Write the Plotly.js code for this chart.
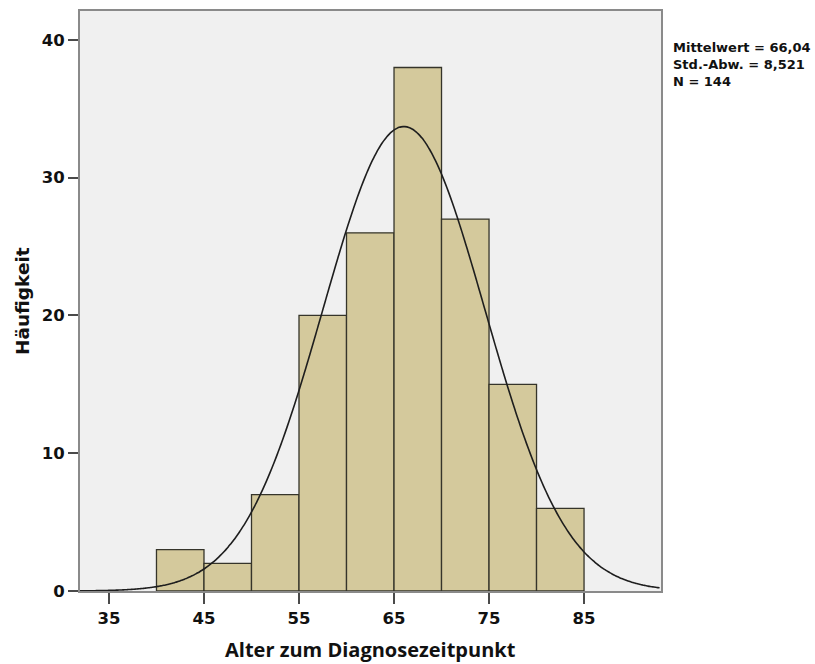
<!DOCTYPE html>
<html>
<head>
<meta charset="utf-8">
<script src="https://cdn.plot.ly/plotly-3.0.1.min.js"></script>
<style>
  html, body { margin: 0; padding: 0; background: #ffffff; }
  #chart { width: 815px; height: 664px; }
</style>
</head>
<body>
<div id="chart"></div>
<script>
// Histogram of age at diagnosis (5-year bins) with fitted normal curve
const binStarts = [40, 45, 50, 55, 60, 65, 70, 75, 80];
const counts    = [3, 2, 7, 20, 26, 38, 27, 15, 6];
const binWidth  = 5;

// Summary statistics shown beside the plot
const meanAge = 66.04;
const sdAge   = 8.521;
const nCases  = 144;
const statLines = ['Mittelwert = 66,04', 'Std.-Abw. = 8,521', 'N = 144'];

const xTicks = [35, 45, 55, 65, 75, 85];
const yTicks = [0, 10, 20, 30, 40];
const xRange = [31.95, 93.1];
const yRange = [0, 42.1];

const boldFont = 'DejaVu Sans, Liberation Sans, Arial, sans-serif';

// Normal density scaled to the histogram (N * bin width)
const curveX = [];
const curveY = [];
for (let x = xRange[0]; x <= xRange[1] + 1e-9; x += 0.2) {
  const z = (x - meanAge) / sdAge;
  curveX.push(x);
  curveY.push(nCases * binWidth * Math.exp(-0.5 * z * z) / (sdAge * Math.sqrt(2 * Math.PI)));
}

const bars = {
  type: 'bar',
  x: binStarts.map(s => s + binWidth / 2),
  y: counts,
  width: binStarts.map(() => binWidth),
  marker: { color: '#d4c99c', line: { color: '#35342a', width: 1.3 } },
  hoverinfo: 'x+y',
  showlegend: false
};

const curve = {
  type: 'scatter',
  mode: 'lines',
  x: curveX,
  y: curveY,
  line: { color: '#1e1e1e', width: 1.6, shape: 'spline' },
  hoverinfo: 'skip',
  showlegend: false
};

const annotations = [
  {
    text: 'Alter zum Diagnosezeitpunkt', showarrow: false,
    xref: 'paper', yref: 'paper', x: 0.5, y: -0.1017,
    xanchor: 'center', yanchor: 'middle',
    font: { family: 'Open Sans, ' + boldFont, size: 20, color: '#111', weight: 'bold' }
  },
  {
    text: 'Häufigkeit', showarrow: false, textangle: -90,
    xref: 'paper', yref: 'paper', x: -0.0998, y: 0.5,
    xanchor: 'center', yanchor: 'middle',
    font: { family: boldFont, size: 18.5, color: '#111', weight: 'bold' }
  },
  {
    // three stacked lines of summary statistics
    text: statLines.join('<br>'), showarrow: false, align: 'left',
    xref: 'paper', yref: 'paper', x: 1.0172, y: 0.9078,
    xanchor: 'left', yanchor: 'middle',
    font: { family: boldFont, size: 13, color: '#111', weight: 'bold' }
  }
];

const layout = {
  width: 815,
  height: 664,
  margin: { l: 80, r: 154, t: 11, b: 73 },
  paper_bgcolor: '#ffffff',
  plot_bgcolor: '#f0f0f0',
  bargap: 0,
  xaxis: {
    range: xRange,
    tickmode: 'array',
    tickvals: xTicks,
    ticks: 'outside', ticklen: 11, tickwidth: 2, tickcolor: '#4a4a4a',
    showline: true, mirror: true, linecolor: '#8a8a8a', linewidth: 2,
    showgrid: false, zeroline: false,
    tickfont: { family: boldFont, size: 16.5, color: '#111', weight: 'bold' }
  },
  yaxis: {
    range: yRange,
    tickmode: 'array',
    tickvals: yTicks,
    ticks: 'outside', ticklen: 10, tickwidth: 2, tickcolor: '#4a4a4a',
    showline: true, mirror: true, linecolor: '#8a8a8a', linewidth: 2,
    showgrid: false, zeroline: false,
    tickfont: { family: boldFont, size: 16.5, color: '#111', weight: 'bold' }
  },
  annotations: annotations
};

Plotly.newPlot('chart', [bars, curve], layout, { displayModeBar: false, staticPlot: true });
</script>
</body>
</html>
